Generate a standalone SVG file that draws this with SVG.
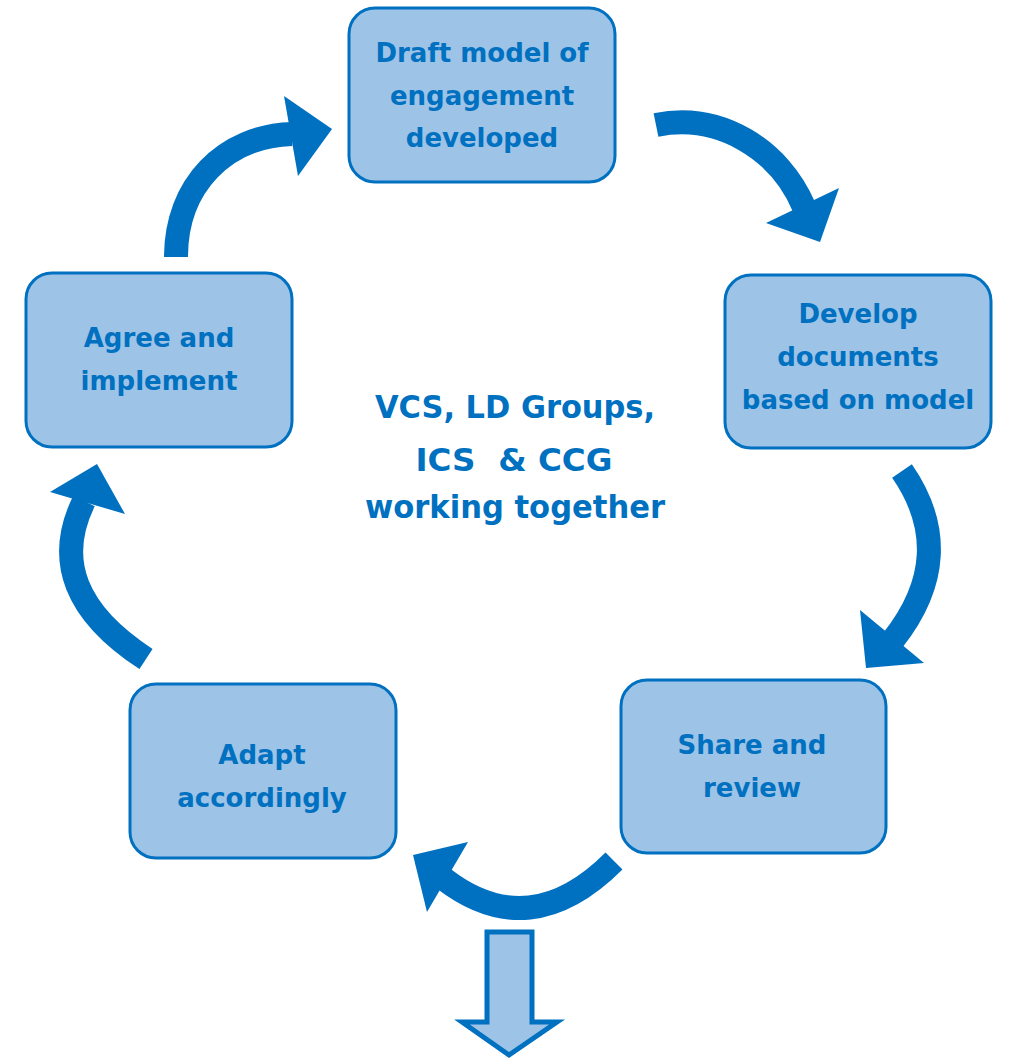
<svg xmlns="http://www.w3.org/2000/svg" width="1011" height="1059" viewBox="0 0 1011 1059">
<style>
.box{fill:#9DC3E6;stroke:#0070C0;stroke-width:3}
.t{font-family:"DejaVu Sans",sans-serif;font-weight:bold;font-size:26px;fill:#0070C0;text-anchor:middle}
.c{font-size:32px}
.shaft{fill:none;stroke:#0070C0;stroke-width:24}
.head{fill:#0070C0}
</style>
<rect width="1011" height="1059" fill="#fff"/>
<g id="connectors">
<path class="shaft" d="M656,125 C720,112 780,150 804,207"/>
<polygon class="head" points="766,223 839,188 820,242"/>
<path class="shaft" d="M902,471 Q960,555 893,640"/>
<polygon class="head" points="860,610 924,663 866,668"/>
<path class="shaft" d="M614,861 Q530,945 444,879"/>
<polygon class="head" points="468,842 427,912 413,855"/>
<path class="shaft" d="M146,659 Q40,590 84,501"/>
<polygon class="head" points="50,492 125,514 97,464"/>
<path class="shaft" d="M176,257 C176,185 225,136 292,134"/>
<polygon class="head" points="284,96 298,176 332,129"/>
<polygon points="487,932 532,932 532,1022 557,1022 509,1055 462,1022 487,1022" fill="#9DC3E6" stroke="#0070C0" stroke-width="5"/>
</g>
<g id="n1"><rect class="box" x="349" y="8" width="266" height="174" rx="26"/>
<text class="t" x="482" y="62">Draft model of</text><text class="t" x="482" y="105">engagement</text><text class="t" x="482" y="147">developed</text></g>
<g id="n2"><rect class="box" x="725" y="275" width="266" height="173" rx="26"/>
<text class="t" x="858" y="323">Develop</text><text class="t" x="858" y="366">documents</text><text class="t" x="858" y="409">based on model</text></g>
<g id="n3"><rect class="box" x="621" y="680" width="265" height="173" rx="26"/>
<text class="t" x="752" y="754">Share and</text><text class="t" x="752" y="797">review</text></g>
<g id="n4"><rect class="box" x="130" y="684" width="266" height="174" rx="26"/>
<text class="t" x="262" y="764">Adapt</text><text class="t" x="262" y="807">accordingly</text></g>
<g id="n5"><rect class="box" x="26" y="273" width="266" height="174" rx="26"/>
<text class="t" x="159" y="347">Agree and</text><text class="t" x="159" y="390">implement</text></g>
<g id="center">
<text class="t c" x="515" y="418" textLength="280" lengthAdjust="spacingAndGlyphs">VCS, LD Groups,</text>
<text class="t c" x="514" y="471" xml:space="preserve" textLength="197" lengthAdjust="spacingAndGlyphs">ICS  &amp; CCG</text>
<text class="t c" x="515" y="518" textLength="300" lengthAdjust="spacingAndGlyphs">working together</text>
</g>
</svg>
